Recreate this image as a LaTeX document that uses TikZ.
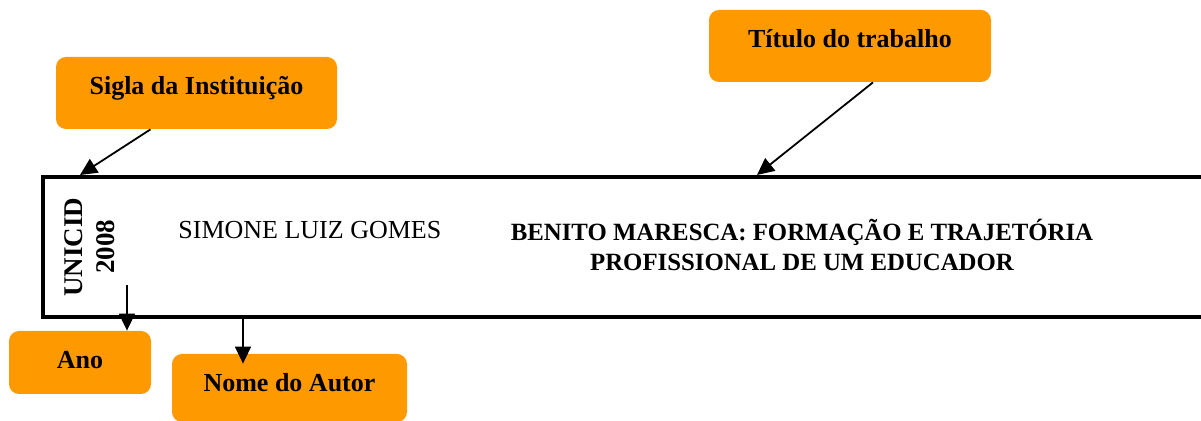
\documentclass[tikz,border=0pt]{standalone}
\usepackage{fontspec}
\setmainfont{Liberation Serif}
\usepackage{tikz}
\usetikzlibrary{arrows.meta}
\definecolor{tagorange}{RGB}{255,153,0}

\begin{document}
\begin{tikzpicture}[
x=0.5pt, y=-0.5pt,
tagbox/.style = {fill=tagorange, rounded corners=5pt, inner sep=0pt, text height=19pt, font=\fontsize{13}{15.5}\selectfont\bfseries},
pointer/.style = {-{Triangle[length=8.5pt,width=8pt]}, line width=0.9pt}]
\tikzstyle{every node}=[font=\fontsize{13}{15.5}\selectfont, inner sep=0pt]
\useasboundingbox (0,0) rectangle (1201,421);
% lombada
\draw[line width=2pt] (1205,177) -- (43,177) -- (43,317) -- (1205,317);
\coordinate (siglatip) at (80,175);
\coordinate (titulotip) at (757,175);
\coordinate (anostart) at (127,285);
\coordinate (nomestart) at (243,318);
\node[font=\fontsize{13.5}{16}\selectfont\bfseries, rotate=90, align=center] (siglaano) at (90,247) {UNICID\\2008};
\node[anchor=base west] (autor) at (178,239) {SIMONE LUIZ GOMES};
\node[font=\fontsize{12.4}{15}\selectfont\bfseries, align=center] (titulo) at (802,245) {BENITO MARESCA: FORMAÇÃO E TRAJETÓRIA\\PROFISSIONAL DE UM EDUCADOR};
% etiquetas
\node[tagbox, minimum width=140.5pt, text depth=17pt] (sigla) at (196.5,93) {Sigla da Instituição};
\node[tagbox, minimum width=141pt, text depth=17pt] (trabalho) at (850,46) {Título do trabalho};
\node[tagbox, minimum width=71pt, text depth=12.5pt] (ano) at (80,362.5) {Ano};
\node[tagbox, minimum width=117.5pt, text depth=15pt] (nome) at (289.5,388) {Nome do Autor};
\draw[pointer] ([xshift=-23pt]sigla.south) -- (siglatip);
\draw[pointer] ([xshift=11.5pt]trabalho.south) -- (titulotip);
\draw[pointer] (anostart) -- (anostart |- ano.north);
\draw[pointer] (nomestart) -- ([yshift=-5pt]nomestart |- nome.north);
\end{tikzpicture}
\end{document}
